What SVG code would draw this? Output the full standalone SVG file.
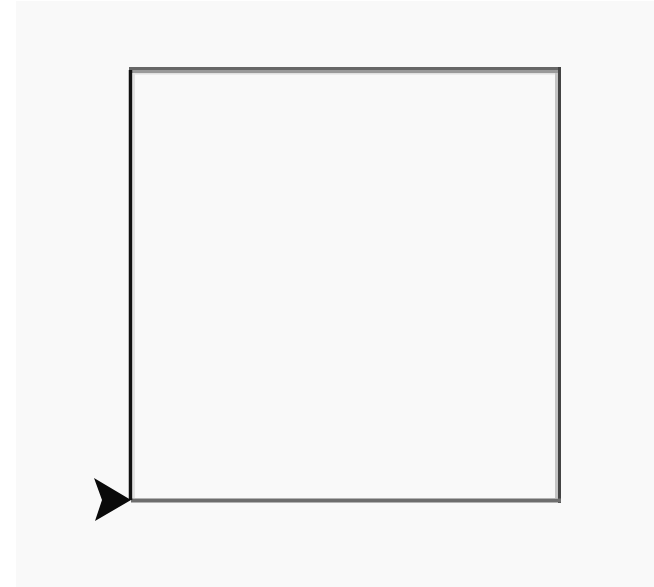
<svg xmlns="http://www.w3.org/2000/svg" width="654" height="587" viewBox="0 0 654 587">
<style>
.edge{fill:none;stroke-linecap:butt}
.head{fill:#0a0a0a}
</style>
<rect x="0" y="0" width="654" height="587" fill="#ffffff"/>
<rect x="16" y="1" width="638" height="586" fill="#f9f9f9"/>
<g id="connectors">
<line class="edge" x1="133" y1="73" x2="556" y2="73" stroke="#e0e0e0" stroke-width="3"/>
<line class="edge" x1="556.5" y1="72" x2="556.5" y2="498" stroke="#c4c4c4" stroke-width="3"/>
<line class="edge" x1="134" y1="72" x2="134" y2="498" stroke="#e2e2e2" stroke-width="2"/>
<line class="edge" x1="129" y1="71.5" x2="558" y2="71.5" stroke="#9a9a9a" stroke-width="3"/>
<line class="edge" x1="129" y1="68.5" x2="561" y2="68.5" stroke="#676767" stroke-width="3"/>
<line class="edge" x1="559.5" y1="67" x2="559.5" y2="503" stroke="#444444" stroke-width="3"/>
<line class="edge" x1="131" y1="500.5" x2="561" y2="500.5" stroke="#6e6e6e" stroke-width="4"/>
<line class="edge" x1="130.5" y1="70" x2="130.5" y2="500" stroke="#111111" stroke-width="3.5"/>
<polygon class="head" points="94,478 131,500 95,521 102,500"/>
</g>
</svg>
